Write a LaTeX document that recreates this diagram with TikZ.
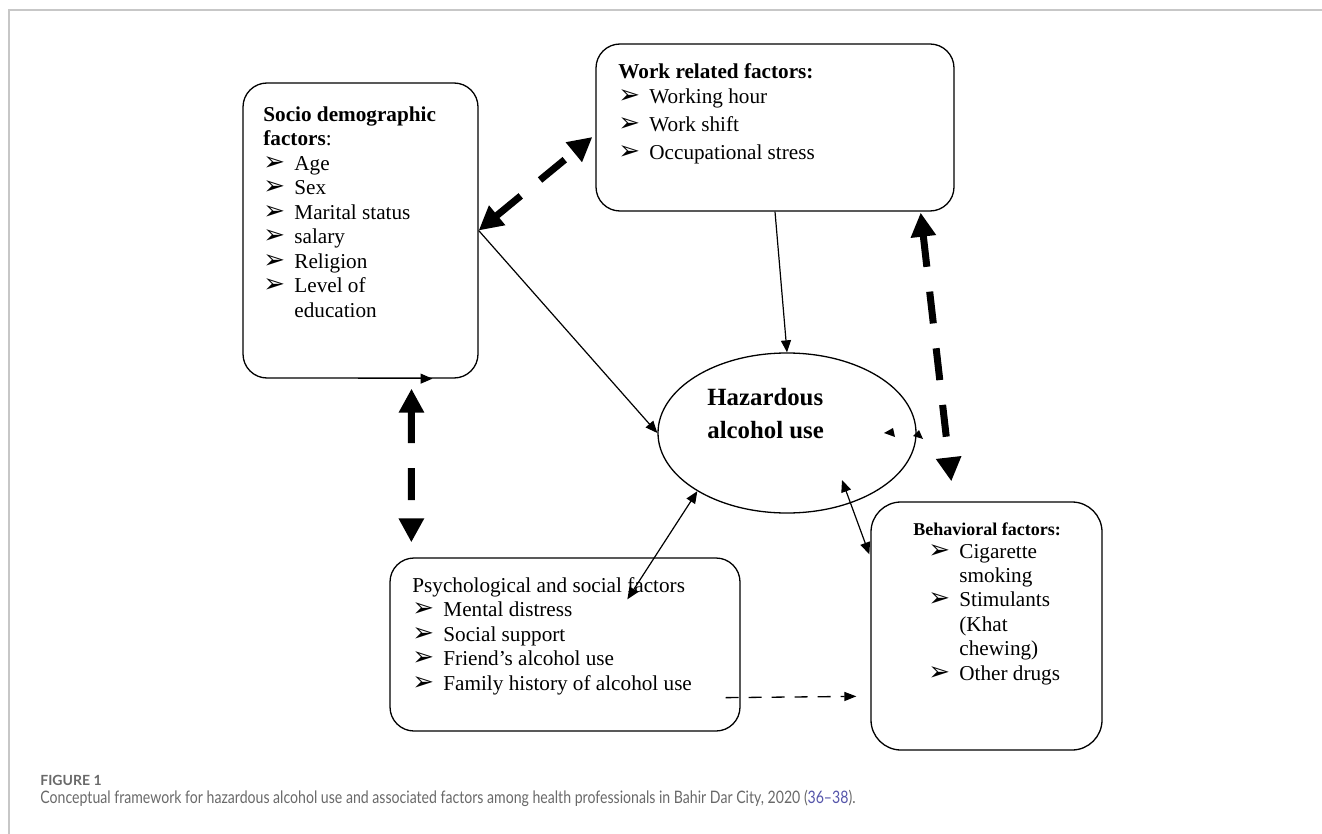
\documentclass[tikz,border=0pt]{standalone}
\usepackage{fontspec}
\setmainfont{Liberation Serif}
\newfontfamily\arrowfont{DejaVu Sans}
\newfontfamily\captionfont{Lato}
\usetikzlibrary{arrows.meta,fit,shapes.geometric}
\definecolor{capgray}{RGB}{105,105,105}
\definecolor{refblue}{RGB}{85,85,170}
\newcommand{\itm}{\makebox[15.5pt][l]{\arrowfont\fontsize{13}{9}\selectfont ➢}}
\newcommand{\cnt}{\hspace*{15.5pt}}
\tikzset{
  factorbox/.style={draw,line width=0.65pt,rounded corners=12pt,inner sep=0pt},
  boxtext/.style={anchor=base west,align=left,inner sep=0pt,font=\fontsize{10.6}{12.25}\selectfont},
  linkarrow/.style={line width=0.6pt,-{Triangle[length=6pt,width=5pt]}},
  linkboth/.style={line width=0.6pt,{Triangle[length=6pt,width=5pt]}-{Triangle[length=6pt,width=5pt]}},
  dashlink/.style={line width=0.65pt,dash pattern=on 6.5pt off 5pt,-{Triangle[length=6pt,width=4.5pt]}},
  boldlink/.style={line width=3.5pt,dash pattern=on 16pt off 12.5pt,
    {Triangle[length=12pt,width=12pt]}-{Triangle[length=12pt,width=12pt]}}
}
\begin{document}
\begin{tikzpicture}[x=0.5pt,y=-0.5pt]
\useasboundingbox (0,0) rectangle (1322,834);
% frame
\draw[black!22,line width=0.8pt] (9,834) -- (9,10) -- (1322,10);

% boxes
\node[factorbox,fit={(243,83) (478,378)}] (socio) {};
\node[factorbox,fit={(596,44) (954,211)}] (work) {};
\node[factorbox,fit={(390,558) (740,731)}] (psych) {};
\node[factorbox,rounded corners=15pt,fit={(871,502) (1102,750)}] (behav) {};
\node[draw,ellipse,line width=0.65pt,inner sep=0pt,minimum width=129pt,minimum height=80pt] (ell) at (787,433) {};

% texts (anchored at the last baseline)
\node[boxtext] (sociotext) at (263,317) {{\bfseries Socio demographic}\\{\bfseries factors}:\\
  \itm Age\\\itm Sex\\\itm Marital status\\\itm salary\\\itm Religion\\\itm Level of\\\cnt education};
\node[boxtext] (worktext) at (618,160) {{\bfseries Work related factors:}\\
  \itm Working hour\\[1.9pt]\itm Work shift\\[1.9pt]\itm Occupational stress};
\node[boxtext] (psychtext) at (412,690) {Psychological and social factors\\
  \itm Mental distress\\\itm Social support\\\itm Friend’s alcohol use\\\itm Family history of alcohol use};
\node[boxtext,font=\bfseries\fontsize{9}{11}\selectfont] (behavhead) at (913,535) {Behavioral factors:};
\node[boxtext,font=\fontsize{10.6}{12.2}\selectfont] (behavtext) at (928,680) {\itm Cigarette\\\cnt smoking\\
  \itm Stimulants\\\cnt (Khat\\\cnt chewing)\\\itm Other drugs};
\node[boxtext,font=\bfseries\fontsize{12.4}{16.5}\selectfont] (elltext) at (707,438) {Hazardous\\alcohol use};

% connectors
\draw[boldlink] (socio.east) -- ([shift={(-3,9.5)}]work.west);
\draw[linkarrow] (socio.east) -- (ell.west);
\draw[linkarrow] (work.south) -- (ell.north);
\draw[boldlink] ([shift={(-34,1)}]work.south east) -- ([shift={(81,-20)}]behav.north west);
\draw[linkarrow] ([shift={(-3,0)}]socio.south) -- ([shift={(72,0)}]socio.south);
\draw[boldlink] ([shift={(51,10)}]socio.south) -- ([shift={(22,-15)}]psych.north west);
\draw[linkboth] (ell.213) -- ([shift={(238,42)}]psych.north west);
\draw[linkboth] ([shift={(55,47)}]ell.center) -- ([shift={(-1,53)}]behav.north west);
\draw[dashlink] ([shift={(-15,-34)}]psych.south east) -- ([shift={(-14,195)}]behav.north west);
\fill ([shift={(97,0)}]ell.center) -- ++(9,-5) -- ++(2,9) -- cycle;
\fill ([shift={(126,3)}]ell.center) -- ++(6,-6) -- ++(4,9) -- cycle;

% caption
\node[anchor=base west,inner sep=0pt,text=capgray,font=\captionfont\bfseries\fontsize{7}{8}\selectfont] (fig) at (40,785) {FIGURE 1};
\node[anchor=base west,inner sep=0pt,text=capgray,font=\captionfont\fontsize{8.6}{10}\selectfont] (caption) at (40,803)
  {\scalebox{0.82}[1]{Conceptual framework for hazardous alcohol use and associated factors among health professionals in Bahir Dar City, 2020 (\textcolor{refblue}{36–38}).}};
\end{tikzpicture}
\end{document}
